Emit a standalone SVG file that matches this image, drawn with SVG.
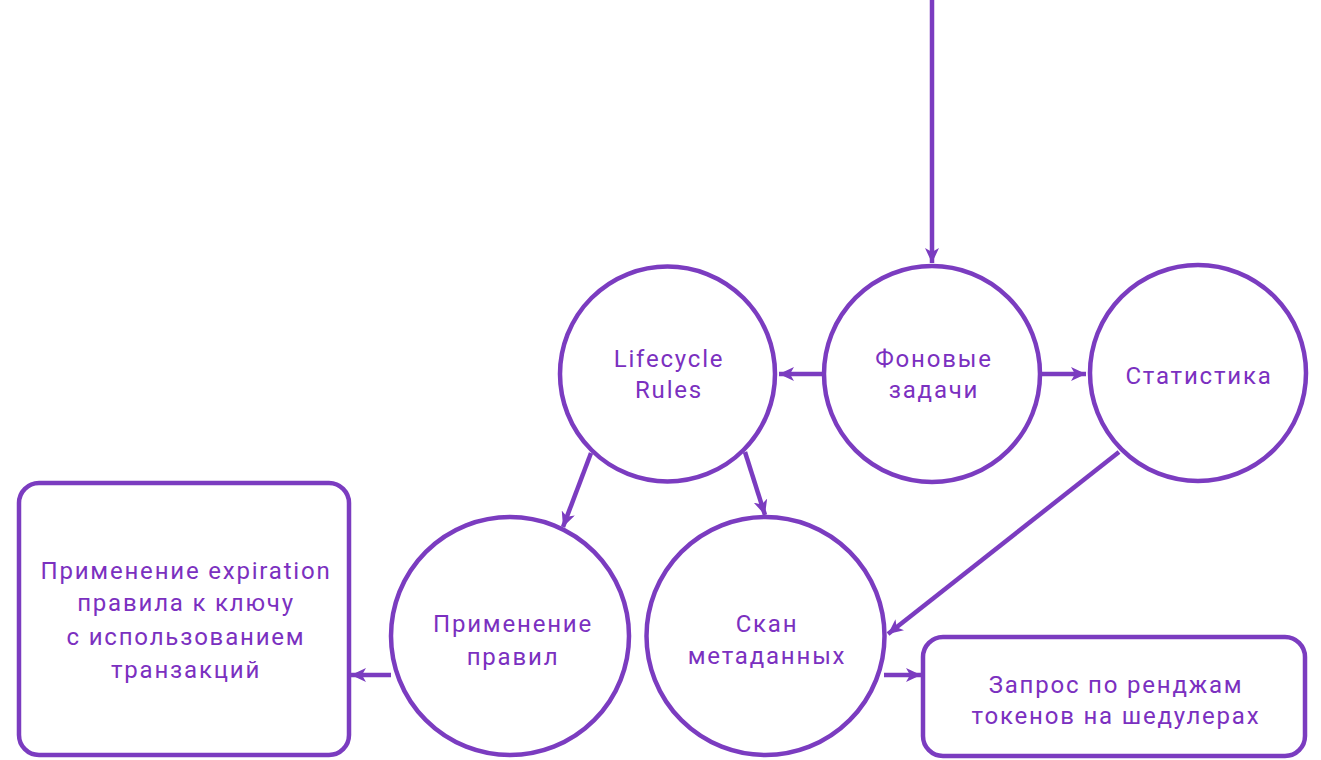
<svg xmlns="http://www.w3.org/2000/svg" width="1321" height="760" viewBox="0 0 1321 760">
  <style>
    .shape { fill: #ffffff; stroke: #7b3cc0; stroke-width: 4.5; }
    .edge { fill: none; stroke: #7b3cc0; stroke-width: 4.5; marker-end: url(#arrow); }
    .label { font-family: Roboto, "Liberation Sans", sans-serif; font-size: 24px; letter-spacing: 1.8px; fill: #7b30c0; text-anchor: middle; }
  </style>
  <defs>
    <marker id="arrow" markerUnits="userSpaceOnUse" markerWidth="16" markerHeight="14" refX="15" refY="7" orient="auto">
      <path d="M0,0 L15,7 L0,14 L4,7 z" fill="#7b3cc0"/>
    </marker>
  </defs>
  <rect width="1321" height="760" fill="#ffffff"/>

  <g id="connectors">
    <line class="edge" x1="932" y1="0" x2="932" y2="263"/>
    <line class="edge" x1="822" y1="374" x2="779" y2="374"/>
    <line class="edge" x1="1042" y1="374" x2="1086" y2="374"/>
    <line class="edge" x1="591" y1="453" x2="563" y2="527"/>
    <line class="edge" x1="745" y1="452" x2="765" y2="515"/>
    <line class="edge" x1="1119" y1="452" x2="888" y2="634"/>
    <line class="edge" x1="884" y1="675" x2="921" y2="675"/>
    <line class="edge" x1="391" y1="675" x2="351" y2="675"/>
  </g>

  <g id="lifecycle-rules">
    <circle class="shape" cx="667.5" cy="374" r="107.5"/>
    <text class="label" x="669" y="367">Lifecycle</text>
    <text class="label" x="669" y="398">Rules</text>
  </g>

  <g id="background-tasks">
    <circle class="shape" cx="932" cy="374" r="108"/>
    <text class="label" x="934" y="367">Фоновые</text>
    <text class="label" x="934" y="398">задачи</text>
  </g>

  <g id="statistics">
    <circle class="shape" cx="1198" cy="373" r="108"/>
    <text class="label" x="1199" y="384">Статистика</text>
  </g>

  <g id="apply-rules">
    <circle class="shape" cx="510" cy="636" r="119"/>
    <text class="label" x="513" y="632">Применение</text>
    <text class="label" x="513" y="665">правил</text>
  </g>

  <g id="metadata-scan">
    <circle class="shape" cx="765.5" cy="636" r="119"/>
    <text class="label" x="767" y="632">Скан</text>
    <text class="label" x="767" y="664">метаданных</text>
  </g>

  <g id="apply-expiration">
    <rect class="shape" x="19" y="483" width="330" height="272" rx="20" ry="20"/>
    <text class="label" x="186" y="579">Применение expiration</text>
    <text class="label" x="186" y="611">правила к ключу</text>
    <text class="label" x="186" y="645">с использованием</text>
    <text class="label" x="186" y="678">транзакций</text>
  </g>

  <g id="token-range-query">
    <rect class="shape" x="923" y="637" width="382" height="119" rx="20" ry="20"/>
    <text class="label" x="1116" y="693">Запрос по ренджам</text>
    <text class="label" x="1116" y="724">токенов на шедулерах</text>
  </g>
</svg>
